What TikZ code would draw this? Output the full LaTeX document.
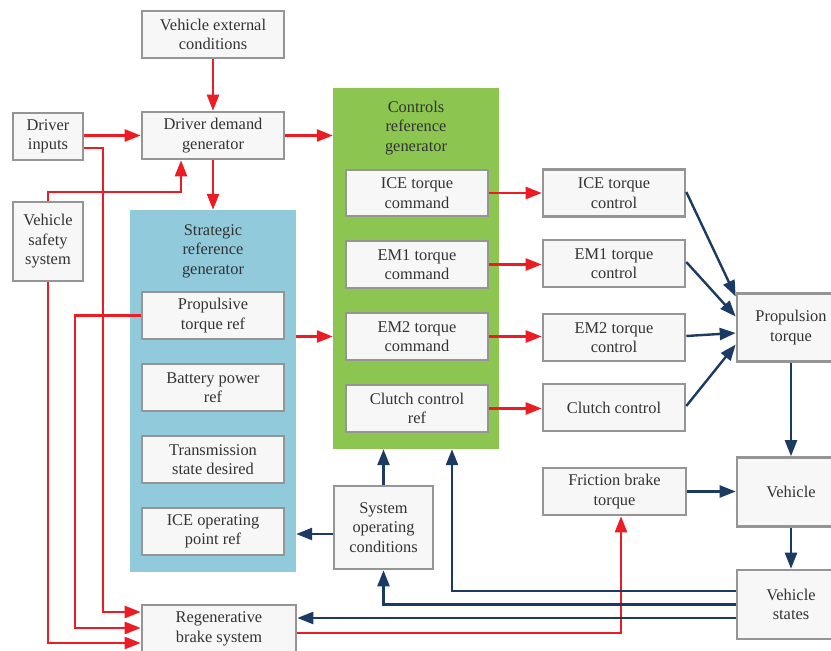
\documentclass[tikz,border=0pt]{standalone}
\usepackage{fontspec}
\setmainfont{Liberation Serif}
\usetikzlibrary{arrows.meta}
\definecolor{sigred}{HTML}{EC1C24}
\definecolor{signavy}{HTML}{1B3A64}
\definecolor{boxgray}{HTML}{959595}
\definecolor{boxfill}{HTML}{F7F7F7}
\definecolor{panelblue}{HTML}{90CADB}
\definecolor{panelgreen}{HTML}{8CC550}
\definecolor{txt}{HTML}{333333}
\tikzset{
  blk/.style={draw=boxgray, line width=2.6pt, fill=boxfill, text=txt,
    align=center, inner sep=0pt, font=\fontsize{16.4}{19.5}\selectfont},
  panel/.style={draw=none, inner sep=0pt},
  ptitle/.style={text=txt, align=center, inner sep=0pt,
    font=\fontsize{16.4}{19.5}\selectfont},
  redline/.style={draw=sigred, line width=2.4pt},
  navyline/.style={draw=signavy, line width=2.4pt},
  redarr/.style={redline, -{Triangle[length=16pt,width=12pt]}},
  navyarr/.style={navyline, -{Triangle[length=16pt,width=12pt]}},
}
\begin{document}
\begin{tikzpicture}[x=1pt,y=-1pt]
\useasboundingbox (0,0) rectangle (831,651);
\clip (0,0) rectangle (831,651);
\fill[white] (0,0) rectangle (831,651);

% group panels
\node[panel, fill=panelblue, minimum width=166pt, minimum height=362pt] (sbg) at (213,391) {};
\node[ptitle] (sbgt) at (213,251) {Strategic\\reference\\generator};
\node[panel, fill=panelgreen, minimum width=166pt, minimum height=361pt] (crg) at (416,268.5) {};
\node[ptitle] (crgt) at (416,128) {Controls\\reference\\generator};

% driver side
\node[blk, minimum width=142pt, minimum height=47pt] (vec) at (213,34.5) {Vehicle external\\conditions};
\node[blk, minimum width=142pt, minimum height=47pt] (ddg) at (213,135.5) {Driver demand\\generator};
\node[blk, minimum width=70pt, minimum height=47pt] (din) at (48,136.5) {Driver\\inputs};
\node[blk, minimum width=70pt, minimum height=79pt] (vss) at (48,241.5) {Vehicle\\safety\\system};

% strategic reference blocks
\node[blk, minimum width=142pt, minimum height=47pt] (ptr) at (213,315.5) {Propulsive\\torque ref};
\node[blk, minimum width=142pt, minimum height=47pt] (bpr) at (213,387.5) {Battery power\\ref};
\node[blk, minimum width=142pt, minimum height=47pt] (tsd) at (213,459.5) {Transmission\\state desired};
\node[blk, minimum width=142pt, minimum height=47pt] (iop) at (213,531.5) {ICE operating\\point ref};

% command blocks
\node[blk, minimum width=142pt, minimum height=46pt] (icec) at (417,193) {ICE torque\\command};
\node[blk, minimum width=142pt, minimum height=47pt] (em1c) at (417,264.5) {EM1 torque\\command};
\node[blk, minimum width=142pt, minimum height=47pt] (em2c) at (417,336.5) {EM2 torque\\command};
\node[blk, minimum width=142pt, minimum height=47pt] (clr) at (417,408.5) {Clutch control\\ref};

% actuator control blocks
\node[blk, minimum width=142pt, minimum height=47pt] (icet) at (614,193) {ICE torque\\control};
\node[blk, minimum width=142pt, minimum height=47pt] (em1t) at (614,263.5) {EM1 torque\\control};
\node[blk, minimum width=142pt, minimum height=47pt] (em2t) at (614,337.5) {EM2 torque\\control};
\node[blk, minimum width=142pt, minimum height=47pt] (clc) at (614,407.5) {Clutch control};
\node[blk, minimum width=143pt, minimum height=47pt] (fbt) at (614.5,491.5) {Friction brake\\torque};

% plant side
\node[blk, minimum width=108pt, minimum height=68pt] (prop) at (791,327.5) {Propulsion\\torque};
\node[blk, minimum width=108pt, minimum height=69pt] (veh) at (791,492) {Vehicle};
\node[blk, minimum width=108pt, minimum height=69pt] (vst) at (791,604.5) {Vehicle\\states};

% conditions and regenerative braking
\node[blk, minimum width=99pt, minimum height=83pt] (soc) at (383.5,527.5) {System\\operating\\conditions};
\node[blk, minimum width=154pt, minimum height=48pt] (rbs) at (219,629) {Regenerative\\brake system};

% red signal paths
\draw[redarr] (vec.south) -- (ddg.north);
\draw[redarr] (din.east |- ddg.west) -- (ddg.west);
\draw[redarr] (ddg.south) -- (sbg.north);
\draw[redarr] (ddg.east) -- (ddg.east -| crg.west);
\draw[redarr] (vss.north) -- ++(0,-9) -| ([xshift=-32pt]ddg.south);
\coordinate (b1) at (103,612);
\draw[redarr] ([yshift=-11.5pt]din.east) -| (b1) -- (b1 -| rbs.west);
\coordinate (b2) at (75,628);
\draw[redarr] (ptr.west) -| (b2) -- (b2 -| rbs.west);
\coordinate (b3) at (48,643);
\draw[redarr] (vss.south) -- (b3) -- (b3 -| rbs.west);
\draw[redarr] (sbg.east |- em2c.west) -- (em2c.west -| crg.west);
\draw[redarr] (icec.east) -- (icec.east -| icet.west);
\draw[redarr] (em1c.east) -- (em1c.east -| em1t.west);
\draw[redarr] (em2c.east) -- (em2c.east -| em2t.west);
\draw[redarr] (clr.east) -- (clr.east -| clc.west);
\draw[redarr] ([yshift=-4pt]rbs.east) -| ([xshift=6.5pt]fbt.south);

% navy signal paths
\draw[navyarr] ([yshift=1pt]icet.east) -- ([yshift=31pt]prop.west);
\draw[navyarr] ([yshift=1.5pt]em1t.east) -- ([yshift=11pt]prop.west);
\draw[navyarr] ([yshift=1.5pt]em2t.east) -- ([yshift=-5.5pt]prop.west);
\draw[navyarr] ([yshift=1.5pt]clc.east) -- ([yshift=-17pt]prop.west);
\draw[navyarr] (prop.south) -- (veh.north);
\draw[navyarr] (veh.south) -- (vst.north);
\draw[navyarr] (fbt.east) -- (fbt.east -| veh.west);
\draw[navyarr] ([yshift=13.5pt]vst.west) -| ([xshift=36pt]crg.south);
\draw[navyarr] (vst.west) -| (soc.south);
\draw[navyarr] ([yshift=-13.5pt]vst.west) -- ([yshift=-13.5pt]vst.west -| rbs.east);
\draw[navyarr] (soc.north) -- (soc.north |- crg.south);
\draw[navyarr] ([yshift=-6.5pt]soc.west) -- ([yshift=-6.5pt]soc.west -| sbg.east);
\end{tikzpicture}
\end{document}
